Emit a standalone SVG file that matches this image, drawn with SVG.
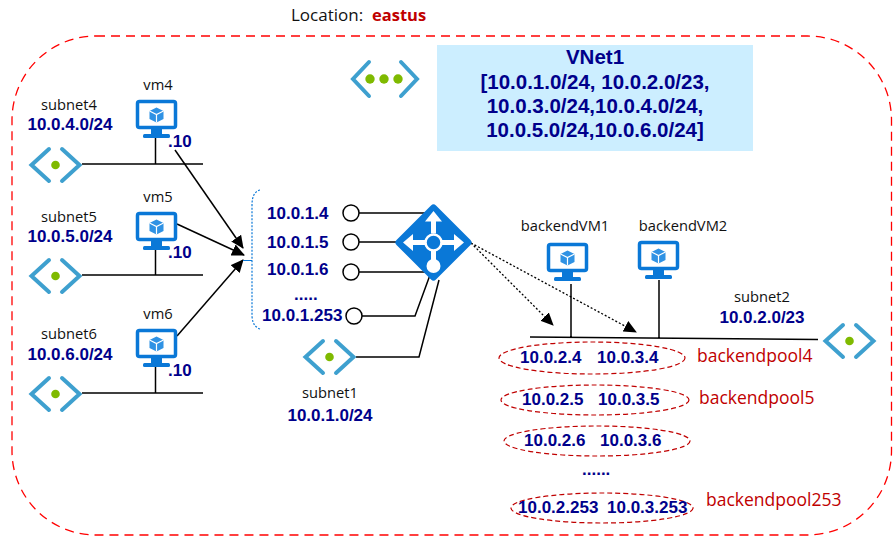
<svg xmlns="http://www.w3.org/2000/svg" xmlns:xlink="http://www.w3.org/1999/xlink" width="895" height="546" viewBox="0 0 895 546">
<style>
text{font-family:"Open Sans","Noto Sans","Liberation Sans",sans-serif;font-size:14.7px;fill:#111}
.ip{font-family:"Liberation Sans",Arial,sans-serif;font-weight:700;font-size:17px;fill:#00008b}
.vn{font-size:20.500px}
.pool{font-family:"Open Sans","Liberation Sans",sans-serif;font-size:17.500px;fill:#c00000}
.c{text-anchor:middle}
.ln{fill:none;stroke:#000;stroke-width:1.5}
.dot{fill:none;stroke:#000;stroke-width:1.3;stroke-dasharray:2 2}
.ring{fill:#fff;stroke:#000;stroke-width:1.5}
.pe{fill:#fff;stroke:#c00000;stroke-width:1.2;stroke-dasharray:5 3}
.chev{fill:none;stroke:#3ea0cf;stroke-width:4;stroke-linecap:round;stroke-linejoin:miter}
</style>
<defs>
<marker id="a" markerWidth="14" markerHeight="12" refX="12" refY="6" orient="auto" markerUnits="userSpaceOnUse"><path d="M0 0L13 6L0 12z" fill="#000"/></marker>
<g id="vm">
<rect x="1.500" y="1.500" width="38" height="26" rx="2" fill="#fff" stroke="#0a78d7" stroke-width="3.500"/>
<rect x="15" y="29" width="11" height="6" fill="#0a78d7"/>
<rect x="7" y="34" width="27" height="4" rx="1.500" fill="#0a78d7"/>
<path d="M20.500 7.500l7 3.500v8l-7 3.500l-7-3.500v-8z" fill="#2f92e4"/>
<path d="M13.500 11l7 3.500l7-3.500M20.500 14.500v8" fill="none" stroke="#fff" stroke-width="1.200"/>
</g>
<g id="sn">
<path class="chev" d="M20 2L2.500 18L20 34M33 2L50.500 18L33 34"/>
<circle cx="26.500" cy="18" r="4.300" fill="#7fba00"/>
</g>
</defs>
<rect x="12" y="36" width="879.500" height="499" rx="84" ry="84" fill="none" stroke="#ff0000" stroke-width="1.300" stroke-dasharray="9 6"/>
<g id="location"><text x="291" y="21" style="font-size:17px">Location:<tspan x="372" style="fill:#c00000;font-weight:700;font-size:16.500px">eastus</tspan></text></g>
<g id="vnet1">
<rect x="437" y="45" width="316" height="106" fill="#cceeff"/>
<path class="chev" d="M369 62L353 79L369 96M401 62L417 79L401 96"/>
<circle cx="370" cy="79" r="4.700" fill="#7fba00"/><circle cx="384" cy="79" r="4.700" fill="#7fba00"/><circle cx="398" cy="79" r="4.700" fill="#7fba00"/>
<text class="ip c vn" x="595" y="64">VNet1</text>
<text class="ip c vn" x="595" y="89">[10.0.1.0/24, 10.0.2.0/23,</text>
<text class="ip c vn" x="595" y="113">10.0.3.0/24,10.0.4.0/24,</text>
<text class="ip c vn" x="595" y="137">10.0.5.0/24,10.0.6.0/24]</text>
</g>
<g id="connectors">
<path class="ln" d="M82 164H203M155.500 138V164M82 275H203M155.500 250V275M82 393H203M155.500 367V393"/>
<path class="ln" d="M175 150L243 248" marker-end="url(#a)"/>
<path class="ln" d="M177 224L244 255" marker-end="url(#a)"/>
<path class="ln" d="M177 336L243 260" marker-end="url(#a)"/>
<path class="ln" d="M359 213H425M359 242H400M359 272H425M362 316H415L430 275M356 357H419L439 280"/>
<path d="M243 260.500H252" fill="none" stroke="#0a78d7" stroke-width="1"/>
<path d="M260 190Q252 192 252 205V315Q252 326 260 329" fill="none" stroke="#0a78d7" stroke-width="1.200" stroke-dasharray="2 1.500"/>
<path class="dot" d="M471 243L553 325" marker-end="url(#a)"/>
<path class="dot" d="M471 243L636 332" marker-end="url(#a)"/>
<path class="ln" d="M530 337L818 339.500M571 284V338M659 280V339"/>
</g>
<g id="subnet4"><text class="c" x="69" y="110">subnet4</text><text class="ip c" x="70" y="130">10.0.4.0/24</text><use href="#sn" x="29" y="147"/></g>
<g id="subnet5"><text class="c" x="69" y="222">subnet5</text><text class="ip c" x="70" y="242">10.0.5.0/24</text><use href="#sn" x="29" y="258"/></g>
<g id="subnet6"><text class="c" x="69" y="339">subnet6</text><text class="ip c" x="70" y="360">10.0.6.0/24</text><use href="#sn" x="29" y="376"/></g>
<g id="vm4"><text class="c" x="158" y="90">vm4</text><use href="#vm" x="136" y="100"/><text class="ip" x="168" y="147">.10</text></g>
<g id="vm5"><text class="c" x="158" y="202">vm5</text><use href="#vm" x="136" y="212"/><text class="ip" x="168" y="258">.10</text></g>
<g id="vm6"><text class="c" x="158" y="319">vm6</text><use href="#vm" x="136" y="329"/><text class="ip" x="168" y="376">.10</text></g>
<g id="frontend-ips">
<text class="ip" x="267" y="219">10.0.1.4</text><circle class="ring" cx="351" cy="213" r="8"/>
<text class="ip" x="267" y="248">10.0.1.5</text><circle class="ring" cx="351" cy="242" r="8"/>
<text class="ip" x="267" y="275">10.0.1.6</text><circle class="ring" cx="351" cy="272" r="8"/>
<text class="ip" x="294" y="300">.....</text>
<text class="ip" x="262" y="321">10.0.1.253</text><circle class="ring" cx="354" cy="316" r="8"/>
</g>
<g id="appgw">
<path d="M433.500 208L468 242.500L433.500 277L399 242.500Z" fill="#0a78d7" stroke="#0a78d7" stroke-width="7" stroke-linejoin="round"/>
<path d="M433.500 211l8.500 10.500h-6v12h-5v-12h-6zM403 242.500l10-8.500v6h13v5h-13v6zM464 242.500l-10-8.500v6h-13v5h13v6zM431 250h5v12h-5z" fill="#fff"/>
<circle cx="433.500" cy="242.500" r="8" fill="#0a78d7" stroke="#fff" stroke-width="2.500"/>
<circle cx="433.500" cy="266" r="7" fill="#fff"/>
</g>
<g id="subnet1"><use href="#sn" x="303" y="339"/><text class="c" x="330" y="398">subnet1</text><text class="ip c" x="330" y="421">10.0.1.0/24</text></g>
<g id="backendVM1"><text class="c" x="565" y="231">backendVM1</text><use href="#vm" x="547" y="243"/></g>
<g id="backendVM2"><text class="c" x="683" y="231">backendVM2</text><use href="#vm" x="638" y="241"/></g>
<g id="subnet2"><text class="c" x="762" y="302">subnet2</text><text class="ip c" x="762" y="323">10.0.2.0/23</text><use href="#sn" x="823" y="323"/></g>
<g id="backendpool4"><ellipse class="pe" cx="592" cy="358" rx="93" ry="16"/><text class="ip" x="520" y="363">10.0.2.4</text><text class="ip" x="597" y="363">10.0.3.4</text><text class="pool" x="697" y="362">backendpool4</text></g>
<g id="backendpool5"><ellipse class="pe" cx="595" cy="400" rx="94" ry="15"/><text class="ip" x="522" y="405">10.0.2.5</text><text class="ip" x="598" y="405">10.0.3.5</text><text class="pool" x="699" y="404">backendpool5</text></g>
<g id="backendpool6"><ellipse class="pe" cx="597" cy="441" rx="93" ry="15"/><text class="ip" x="524" y="446">10.0.2.6</text><text class="ip" x="600" y="446">10.0.3.6</text></g>
<text class="ip" x="582" y="475">......</text>
<g id="backendpool253"><ellipse class="pe" cx="602" cy="508" rx="91" ry="15"/><text class="ip" x="518" y="513">10.0.2.253</text><text class="ip" x="607" y="513">10.0.3.253</text><text class="pool" x="706" y="506">backendpool253</text></g>
</svg>
